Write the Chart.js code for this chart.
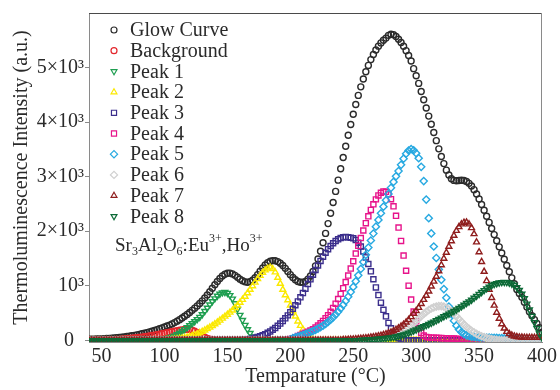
<!DOCTYPE html>
<html>
<head>
<meta charset="utf-8">
<script src="https://cdn.jsdelivr.net/npm/chart.js@4.4.1/dist/chart.umd.min.js"></script>
<style>
  html, body { margin: 0; padding: 0; background: #fff; }
</style>
</head>
<body>
<canvas id="tl" width="560" height="390"></canvas>
<script>
// temperature grid, 2 degC steps
var temps = [
  40,42,44,46,48,50,52,54,56,58, 60,62,64,66,68,70,72,74,76,78,
  80,82,84,86,88,90,92,94,96,98, 100,102,104,106,108,110,112,114,116,118,
  120,122,124,126,128,130,132,134,136,138, 140,142,144,146,148,150,152,154,156,158,
  160,162,164,166,168,170,172,174,176,178, 180,182,184,186,188,190,192,194,196,198,
  200,202,204,206,208,210,212,214,216,218, 220,222,224,226,228,230,232,234,236,238,
  240,242,244,246,248,250,252,254,256,258, 260,262,264,266,268,270,272,274,276,278,
  280,282,284,286,288,290,292,294,296,298, 300,302,304,306,308,310,312,314,316,318,
  320,322,324,326,328,330,332,334,336,338, 340,342,344,346,348,350,352,354,356,358,
  360,362,364,366,368,370,372,374,376,378, 380,382,384,386,388,390,392,394,396,398,
  400
];

var glowCurve = [
  20,20,22,24,26,28,30,33,36,40, 44,48,53,58,64,70,77,84,92,100,
  110,120,130,142,155,168,182,196,212,228, 245,262,280,302,326,352,380,410,442,476,
  512,550,590,632,676,724,776,832,892,955, 1018,1080,1135,1180,1212,1230,1232,1218,1192,1158,
  1122,1092,1072,1066,1076,1104,1148,1204,1266,1326, 1380,1422,1450,1462,1460,1444,1414,1372,1320,1262,
  1204,1152,1110,1080,1064,1064,1082,1120,1180,1262, 1366,1490,1632,1790,1960,2140,2330,2528,2730,2936,
  3144,3352,3558,3760,3956,4144,4322,4490,4646,4790, 4922,5040,5146,5240,5322,5392,5452,5500,5540,5590,
  5610,5600,5570,5520,5460,5390,5310,5220,5120,4980, 4850,4710,4560,4410,4260,4110,3960,3810,3660,3510,
  3370,3240,3120,3030,2962,2932,2926,2930,2934,2930, 2912,2878,2828,2762,2682,2590,2490,2384,2274,2162,
  2050,1938,1826,1714,1600,1486,1372,1258,1146,1038, 934,860,790,700,610,525,450,380,310,230,
  150
];

var background = [
  0,0,2,3,4,5,6,8,10,12, 14,16,19,22,25,29,33,38,43,48,
  54,60,66,73,80,88,96,104,113,122, 131,140,149,158,167,176,185,193,199,202,
  198,186,166,140,112,84,58,36,20,9, 3,0,0,0,0,0,0,0,0,0,
  0,0,0,0,0,0,0,0,0,0, 0,0,0,0,0,0,0,0,0,0,
  0,0,0,0,0,0,0,0,0,0, 0,0,0,0,0,0,0,0,0,0,
  0,0,0,0,0,0,0,0,0,0, 0,0,0,0,0,0,0,0,0,0,
  0,0,0,0,0,0,0,0,0,0, 0,0,0,0,0,0,0,0,0,0,
  0,0,0,0,0,0,0,0,0,0, 0,0,0,0,0,0,0,0,0,0,
  0,0,0,0,0,0,0,0,0,0, 0,0,0,0,0,0,0,0,0,0,
  0
];

var peak1 = [
  0,0,0,0,0,0,0,0,0,0, 0,0,0,0,0,0,0,0,0,0,
  0,0,0,0,0,0,0,0,5,12, 25,35,48,64,84,108,136,168,202,238,
  274,310,348,386,426,476,534,594,654,712, 766,814,852,876,882,866,826,762,676,574,
  464,370,280,200,130,70,30,10,3,0, 0,0,0,0,0,0,0,0,0,0,
  0,0,0,0,0,0,0,0,0,0, 0,0,0,0,0,0,0,0,0,0,
  0,0,0,0,0,0,0,0,0,0, 0,0,0,0,0,0,0,0,0,0,
  0,0,0,0,0,0,0,0,0,0, 0,0,0,0,0,0,0,0,0,0,
  0,0,0,0,0,0,0,0,0,0, 0,0,0,0,0,0,0,0,0,0,
  0,0,0,0,0,0,0,0,0,0, 0,0,0,0,0,0,0,0,0,0,
  0
];

var peak2 = [
  0,0,0,0,0,0,0,0,0,0, 0,0,0,0,0,0,0,0,0,0,
  0,0,0,0,0,0,0,0,0,0, 5,8,12,16,20,26,32,40,48,58,
  70,84,100,118,138,160,184,210,238,268, 300,332,366,402,438,474,512,552,596,642,
  692,746,804,866,930,996,1062,1126,1186,1240, 1286,1318,1336,1310,1250,1150,1040,930,830,740,
  640,540,440,350,270,200,135,80,40,15, 5,0,0,0,0,0,0,0,0,0,
  0,0,0,0,0,0,0,0,0,0, 0,0,0,0,0,0,0,0,0,0,
  0,0,0,0,0,0,0,0,0,0, 0,0,0,0,0,0,0,0,0,0,
  0,0,0,0,0,0,0,0,0,0, 0,0,0,0,0,0,0,0,0,0,
  0,0,0,0,0,0,0,0,0,0, 0,0,0,0,0,0,0,0,0,0,
  0
];

var peak3 = [
  0,0,0,0,0,0,0,0,0,0, 0,0,0,0,0,0,0,0,0,0,
  0,0,0,0,0,0,0,0,0,0, 0,0,0,0,0,0,0,0,0,0,
  0,0,0,0,0,0,0,0,0,0, 0,0,0,0,0,0,0,0,0,0,
  0,5,10,16,24,34,46,60,76,94, 114,138,164,194,228,266,308,354,404,458,
  516,578,644,714,788,866,948,1032,1118,1204, 1290,1374,1456,1534,1606,1672,1730,1780,1820,1852,
  1874,1888,1894,1892,1880,1870,1840,1790,1720,1630, 1520,1400,1265,1120,970,830,690,560,440,320,
  220,140,80,40,18,6,0,0,0,0, 0,0,0,0,0,0,0,0,0,0,
  0,0,0,0,0,0,0,0,0,0, 0,0,0,0,0,0,0,0,0,0,
  0,0,0,0,0,0,0,0,0,0, 0,0,0,0,0,0,0,0,0,0,
  0
];

var peak4 = [
  0,0,0,0,0,0,0,0,0,0, 0,0,0,0,0,0,0,0,0,0,
  0,0,0,0,0,0,0,0,0,0, 0,0,0,0,0,0,0,0,0,0,
  0,0,0,0,0,0,0,0,0,0, 0,0,0,0,0,0,0,0,0,0,
  0,0,0,0,0,0,0,0,0,0, 0,0,0,0,0,0,0,0,0,15,
  25,38,55,78,100,120,140,160,182,206, 236,272,312,356,406,462,524,594,672,758,
  852,956,1068,1188,1316,1450,1590,1732,1874,2014, 2148,2274,2390,2494,2584,2656,2706,2730,2722,2676,
  2588,2456,2282,2068,1822,1554,1276,1002,748,528, 352,222,136,88,64,54,50,48,46,44,
  42,40,38,36,34,32,30,26,22,18, 14,10,6,3,0,0,0,0,0,0,
  0,0,0,0,0,0,0,0,0,0, 0,0,0,0,0,0,0,0,0,0,
  0
];

var peak5 = [
  0,0,0,0,0,0,0,0,0,0, 0,0,0,0,0,0,0,0,0,0,
  0,0,0,0,0,0,0,0,0,0, 0,0,0,0,0,0,0,0,0,0,
  0,0,0,0,0,0,0,0,0,0, 0,0,0,0,0,0,0,0,0,0,
  0,0,0,0,0,0,0,0,0,0, 0,0,0,0,0,0,0,0,0,0,
  20,40,55,70,85,100,115,132,150,170, 192,216,242,270,302,338,378,422,470,524,
  584,650,722,800,886,980,1082,1192,1310,1436, 1568,1700,1830,1958,2084,2208,2330,2450,2568,2684,
  2796,2904,3006,3102,3218,3330,3420,3480,3506,3484, 3430,3340,3180,2920,2580,2240,1960,1720,1510,1300,
  1110,940,780,620,480,360,270,200,150,115, 92,78,68,62,58,55,53,51,50,49,
  48,46,44,42,40,38,36,34,32,30, 26,22,18,14,10,6,3,0,0,0,
  0
];

var peak6 = [
  0,0,0,0,0,0,0,0,0,0, 0,0,0,0,0,0,0,0,0,0,
  0,0,0,0,0,0,0,0,0,0, 0,0,0,0,0,0,0,0,0,0,
  0,0,0,0,0,0,0,0,0,0, 0,0,0,0,0,0,0,0,0,0,
  0,0,0,0,0,0,0,0,0,0, 0,0,0,0,0,0,0,0,0,0,
  0,0,0,0,0,0,0,0,0,0, 0,0,0,0,0,0,0,0,0,0,
  0,0,0,0,0,0,0,0,0,5, 8,12,16,20,26,32,40,48,58,70,
  84,100,118,138,160,184,212,244,280,318, 358,400,442,484,522,556,584,606,620,628,
  628,618,598,566,530,490,440,390,340,292, 250,212,176,146,120,96,76,58,44,32,
  22,14,8,4,0,0,0,0,0,0, 0,0,0,0,0,0,0,0,0,0,
  0
];

var peak7 = [
  0,0,0,0,0,0,0,0,0,0, 0,0,0,0,0,0,0,0,0,0,
  0,0,0,0,0,0,0,0,0,0, 0,0,0,0,0,0,0,0,0,0,
  0,0,0,0,0,0,0,0,0,0, 0,0,0,0,0,0,0,0,0,0,
  0,0,0,0,0,0,0,0,0,0, 0,0,0,0,0,0,0,0,0,0,
  0,0,0,0,0,0,0,0,0,0, 0,0,0,0,0,0,0,0,0,0,
  0,10,12,15,18,21,25,29,33,38, 43,49,56,63,71,80,90,102,116,132,
  150,172,196,224,256,292,332,378,430,490, 540,600,670,745,820,900,990,1080,1170,1270,
  1380,1500,1610,1720,1820,1920,2010,2080,2130,2160, 2165,2130,2060,1950,1800,1620,1440,1260,1090,930,
  780,640,510,400,300,220,160,120,92,75, 65,58,55,52,50,50,50,50,50,50,
  50
];

var peak8 = [
  0,0,0,0,0,0,0,0,0,0, 0,0,0,0,0,0,0,0,0,0,
  0,0,0,0,0,0,0,0,0,0, 0,0,0,0,0,0,0,0,0,0,
  0,0,0,0,0,0,0,0,0,0, 0,0,0,0,0,0,0,0,0,0,
  0,0,0,0,0,0,0,0,0,0, 0,0,0,0,0,0,0,0,0,0,
  0,0,0,0,0,0,0,0,0,0, 0,0,0,0,0,0,0,0,0,0,
  0,0,0,0,0,0,0,0,5,8, 10,13,16,19,22,26,30,35,40,46,
  52,60,68,78,90,104,120,138,156,176, 196,216,236,256,276,296,318,340,364,388,
  414,438,462,486,510,535,562,590,620,650, 680,710,742,776,812,848,884,918,950,980,
  1006,1028,1044,1056,1064,1068,1064,1054,1036,1010, 972,920,852,768,670,562,446,330,220,124,
  50
];

var xTickValues = [50, 100, 150, 200, 250, 300, 350, 400];
var yTickValues = [0, 1000, 2000, 3000, 4000, 5000];
var yTickLabels = ['0\u2002', '10\u00B3', '2\u00D710\u00B3', '3\u00D710\u00B3', '4\u00D710\u00B3', '5\u00D710\u00B3'];

var serif = "'Liberation Serif', 'Times New Roman', serif";
var ink = '#2a2a2a';

function series(label, values, color, style, rotation, radius) {
  return {
    label: label,
    data: values.map(function (v, i) { return { x: temps[i], y: v }; }),
    showLine: false,
    borderColor: color,
    backgroundColor: 'rgba(0,0,0,0)',
    pointStyle: style,
    rotation: rotation,
    pointRadius: radius,
    pointBorderWidth: 1.4,
    pointBackgroundColor: 'rgba(0,0,0,0)',
    pointBorderColor: color
  };
}

var datasets = [
  series('Glow Curve', glowCurve, '#2b2b2b', 'circle', 0, 3),
  series('Background', background, '#e3262c', 'circle', 0, 3),
  series('Peak 1', peak1, '#1e9e50', 'triangle', 180, 3.4),
  series('Peak 2', peak2, '#fbe900', 'triangle', 0, 3.4),
  series('Peak 3', peak3, '#3b2e8c', 'rect', 0, 3.6),
  series('Peak 4', peak4, '#e7148b', 'rect', 0, 3.6),
  series('Peak 5', peak5, '#27a9e1', 'rectRot', 0, 3.6),
  series('Peak 6', peak6, '#d0d0d0', 'rectRot', 0, 3.6),
  series('Peak 7', peak7, '#8f1d1d', 'triangle', 0, 3.4),
  series('Peak 8', peak8, '#0b6a36', 'triangle', 180, 3.4)
];
// later peaks drawn on top
datasets.forEach(function (d, i) { d.order = datasets.length - 1 - i; });

var frame = {
  id: 'frame',
  beforeDatasetsDraw: function (chart) {
    var a = chart.chartArea, ctx = chart.ctx;
    ctx.save();
    ctx.lineWidth = 1;
    ctx.strokeStyle = '#4a4a4a';
    ctx.beginPath();
    ctx.moveTo(a.left, a.top + 0.5);
    ctx.lineTo(a.right, a.top + 0.5);
    ctx.stroke();
    ctx.strokeStyle = '#8a8a8a';
    ctx.beginPath();
    ctx.moveTo(a.right - 0.5, a.top);
    ctx.lineTo(a.right - 0.5, a.bottom);
    ctx.stroke();
    ctx.restore();
  }
};

var legendBox = {
  id: 'legendBox',
  afterDatasetsDraw: function (chart) {
    var ctx = chart.ctx;
    ctx.save();
    chart.data.datasets.forEach(function (d, i) {
      var y = 30 + i * 20.7;
      ctx.strokeStyle = d.borderColor;
      ctx.fillStyle = 'rgba(0,0,0,0)';
      ctx.lineWidth = 1.2;
      Chart.helpers.drawPoint(ctx, {
        pointStyle: d.pointStyle, rotation: d.rotation,
        radius: d.pointRadius, borderWidth: 1.2
      }, 114, y);
      ctx.fillStyle = ink;
      ctx.font = '20px ' + serif;
      ctx.textAlign = 'left';
      ctx.textBaseline = 'middle';
      ctx.fillText(d.label, 130, y + 1);
    });
    ctx.restore();
  }
};

var formulaParts = [['Sr', 0], ['3', 1], ['Al', 0], ['2', 1], ['O', 0], ['6', 1],
                    [':Eu', 0], ['3+', -1], [',Ho', 0], ['3+', -1]];

var formula = {
  id: 'formula',
  afterDatasetsDraw: function (chart) {
    var ctx = chart.ctx, x = 115, base = 251;
    ctx.save();
    ctx.fillStyle = ink;
    ctx.textAlign = 'left';
    ctx.textBaseline = 'alphabetic';
    formulaParts.forEach(function (p) {
      var small = p[1] !== 0;
      ctx.font = (small ? '12px ' : '19px ') + serif;
      var dy = p[1] === 1 ? 4 : (p[1] === -1 ? -9 : 0);
      ctx.fillText(p[0], x, base + dy);
      x += ctx.measureText(p[0]).width;
    });
    ctx.restore();
  }
};

new Chart(document.getElementById('tl').getContext('2d'), {
  type: 'line',
  data: { datasets: datasets },
  options: {
    responsive: false,
    animation: false,
    layout: { padding: { top: 12, right: 16, left: 0, bottom: 0 } },
    plugins: { legend: { display: false }, tooltip: { enabled: false } },
    scales: {
      x: {
        type: 'linear', min: 40, max: 400,
        afterBuildTicks: function (s) { s.ticks = xTickValues.map(function (v) { return { value: v }; }); },
        afterFit: function (s) { s.height = 48; },
        grid: { drawOnChartArea: false, drawTicks: false },
        border: { color: '#8a8a8a' },
        ticks: { color: ink, font: { family: serif, size: 20 }, padding: 3, maxRotation: 0 },
        title: { display: true, text: 'Temparature (\u00B0C)', color: ink,
                 font: { family: serif, size: 20 }, padding: { top: 0, bottom: 1 } }
      },
      y: {
        min: -30, max: 6000,
        afterBuildTicks: function (s) { s.ticks = yTickValues.map(function (v) { return { value: v }; }); },
        afterFit: function (s) { s.width = 89; },
        grid: { drawOnChartArea: false, drawTicks: true, tickLength: 4, color: '#8a8a8a' },
        border: { color: '#8a8a8a' },
        ticks: { color: ink, font: { family: serif, size: 20 }, padding: 1,
                 callback: function (v, i) { return yTickLabels[i]; } },
        title: { display: true, text: 'Thermoluminescence Intensity (a.u.)', color: ink,
                 font: { family: serif, size: 20 }, padding: { top: 10, bottom: 0 } }
      }
    }
  },
  plugins: [frame, legendBox, formula]
});
</script>
</body>
</html>
